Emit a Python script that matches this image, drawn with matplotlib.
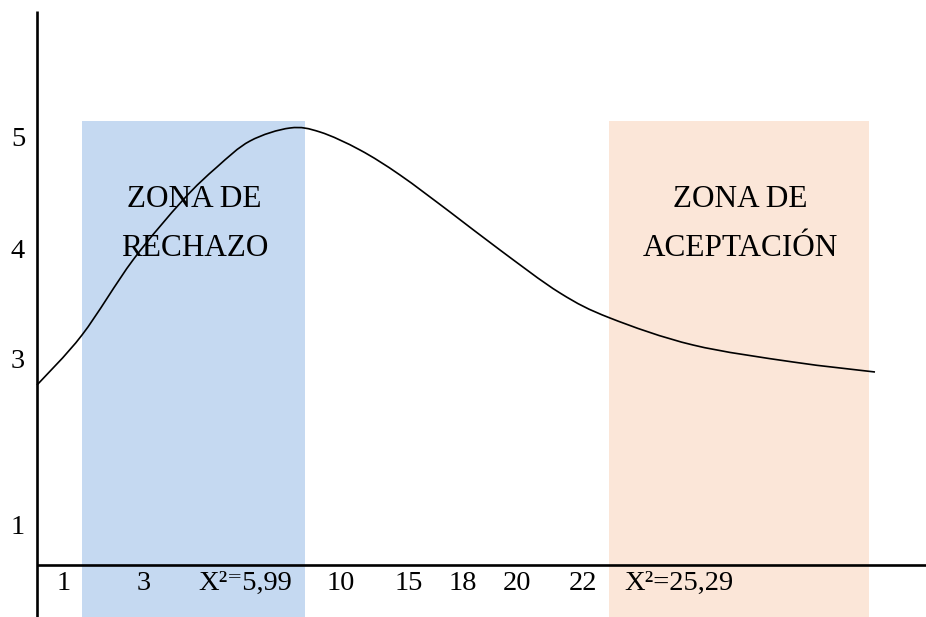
import matplotlib
matplotlib.use("Agg")
import matplotlib.pyplot as plt
from matplotlib.patches import Rectangle, PathPatch
from matplotlib.path import Path

plt.rcParams['font.family'] = ['Liberation Serif', 'DejaVu Serif']

# curve (page coordinates, y grows downwards)
curve_x = [37, 82, 133, 183, 217, 250, 290, 320, 360, 400,
           450, 500, 560, 610, 693, 793, 875]
curve_y = [385, 335, 260, 200, 167, 141, 128, 132, 150, 175,
           212, 250, 293, 318, 345, 362, 372]

# zones
zone_left = [82, 609]
zone_right = [305, 869]
zone_top = 121
zone_colors = ['#C5D9F1', '#FBE6D8']
zone_labels = ['ZONA DE\nRECHAZO', 'ZONA DE\nACEPTACIÓN']

# axis labels
x_labels = ['1', '3', 'X²⁼5,99', '10', '15', '18', '20', '22', 'X²=25,29']
x_label_pos = [64, 144, 245, 341, 409, 463, 517, 583, 679]
y_labels = ['5', '4', '3', '1']
y_label_pos = [140, 252, 362, 527]

axis_x = 37
axis_y = 565
W, H = 926, 617

fig = plt.figure(figsize=(W / 100, H / 100), dpi=100)
ax = fig.add_axes([0, 0, 1, 1])
ax.set_xlim(0, W)
ax.set_ylim(H, 0)
ax.axis("off")

for l, r, c, lab in zip(zone_left, zone_right, zone_colors, zone_labels):
    ax.add_patch(Rectangle((l, zone_top), r - l, H - zone_top, color=c, lw=0, zorder=1))
    ax.text((l + r) / 2 + 1, 224, lab, ha='center', va='center', fontsize=22.5,
            linespacing=1.95, zorder=3)

# smooth curve through the read points (Catmull-Rom as cubic bezier segments)
pts = list(zip(curve_x, curve_y))
verts = [pts[0]]
codes = [Path.MOVETO]
for i in range(len(pts) - 1):
    p0 = pts[i - 1] if i > 0 else pts[i]
    p1, p2 = pts[i], pts[i + 1]
    p3 = pts[i + 2] if i + 2 < len(pts) else pts[i + 1]
    c1 = (p1[0] + (p2[0] - p0[0]) / 6, p1[1] + (p2[1] - p0[1]) / 6)
    c2 = (p2[0] - (p3[0] - p1[0]) / 6, p2[1] - (p3[1] - p1[1]) / 6)
    verts += [c1, c2, p2]
    codes += [Path.CURVE4] * 3
ax.add_patch(PathPatch(Path(verts, codes), fill=False, edgecolor='black', lw=1.2, zorder=4))

# axes lines
ax.plot([axis_x, axis_x], [11, H], color='black', lw=1.9, solid_capstyle='butt', zorder=5)
ax.plot([axis_x, W], [axis_y, axis_y], color='black', lw=1.9, solid_capstyle='butt', zorder=5)

for lab, x in zip(x_labels, x_label_pos):
    ax.text(x, 583, lab, ha='center', va='center', fontsize=20.5, zorder=6)
for lab, y in zip(y_labels, y_label_pos):
    ax.text(18, y, lab, ha='center', va='center', fontsize=20.5, zorder=6)

fig.savefig("out.png", dpi=100)
